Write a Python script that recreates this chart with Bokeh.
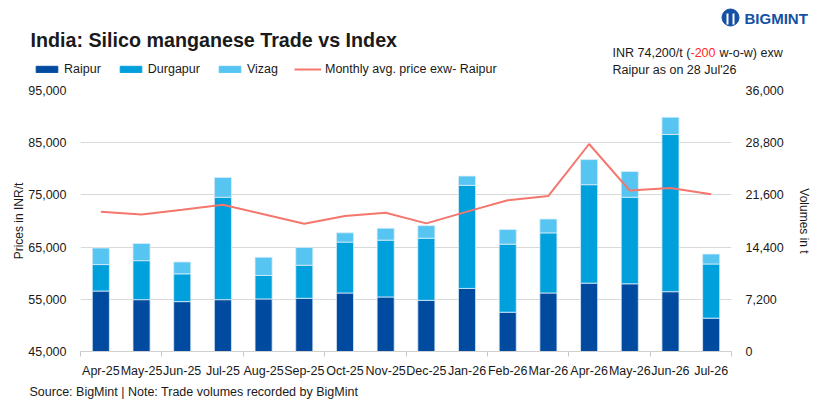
from bokeh.embed import file_html
from bokeh.resources import INLINE
from bokeh.core.properties import value
from bokeh.layouts import column
from bokeh.models import (ColumnDataSource, Range1d, LinearAxis, FixedTicker,
                          NumeralTickFormatter, Legend, LegendItem)
from bokeh.plotting import figure

months = ["Apr-25", "May-25", "Jun-25", "Jul-25", "Aug-25", "Sep-25", "Oct-25", "Nov-25",
          "Dec-25", "Jan-26", "Feb-26", "Mar-26", "Apr-26", "May-26", "Jun-26", "Jul-26"]
raipur = [8340, 7150, 6880, 7150, 7250, 7340, 8070, 7520,
          7060, 8700, 5420, 8070, 9430, 9340, 8250, 4600]
durgapur = [3650, 5380, 3830, 14130, 3240, 4560, 7020, 7840,
            8570, 14220, 9390, 8290, 13580, 11940, 21690, 7470]
vizag = [2280, 2370, 1640, 2730, 2510, 2460, 1280, 1640,
         1730, 1280, 2010, 1910, 3460, 3550, 2370, 1370]
price = [71770, 71260, 72150, 73100, 71300, 69490, 70940, 71580,
         69550, 71800, 73980, 74800, 84750, 75820, 76330, 75120]
price_ticks = [45000, 55000, 65000, 75000, 85000, 95000]
volume_ticks = [0, 7200, 14400, 21600, 28800, 36000]

FONT = "Liberation Sans"
TXT = "#1a1a1a"
colors = ["#004a9f", "#00a0dd", "#56c5f2"]
line_color = "#f4766c"
W = 813
NAN = float("nan")


def blank(height):
    # a figure whose frame is the whole canvas, y counted from the top in px
    f = figure(width=W, height=height, output_backend="svg", toolbar_location=None,
               x_range=Range1d(0, W), y_range=Range1d(height, 0), min_border=0,
               frame_align=False)
    f.axis.visible = False
    f.grid.visible = False
    f.outline_line_color = None
    return f


def add_text(f, x, y, text, size="12.5px", color=TXT, style="normal"):
    f.text(x=[x], y=[y], text=[text], text_font=value(FONT), text_font_size=size,
           text_color=color, text_font_style=style, text_baseline="middle",
           text_align="left")


# ---- header: title, legend, note, logo
head = blank(82)
add_text(head, 30, 39.5, "India: Silico manganese Trade vs Index", size="19.7px", style="bold")
add_text(head, 612, 52, "INR 74,200/t (")
add_text(head, 690, 52, "-200", color="#ff2a2a")
add_text(head, 719, 52, "w-o-w) exw")
add_text(head, 612, 69, "Raipur as on 28 Jul'26")
head.scatter(x=[730], y=[17], size=17, marker="circle", color="#1450a3")
head.segment(x0=[727, 733], y0=[13, 13], x1=[727, 733], y1=[24, 24],
             line_color="white", line_width=2)
add_text(head, 744, 18, "BIGMINT", size="15px", color="#1450a3", style="bold")

# legend swatches come from renderers that have no drawable point
dummy = []
for c in colors:
    dummy.append(head.vbar(x=[NAN], top=[NAN], width=1, color=c))
dummy.append(head.line(x=[NAN], y=[NAN], line_color=line_color, line_width=2))
legend = Legend(items=[LegendItem(label="Raipur", renderers=[dummy[0]]),
                       LegendItem(label="Durgapur", renderers=[dummy[1]]),
                       LegendItem(label="Vizag", renderers=[dummy[2]]),
                       LegendItem(label="Monthly avg. price exw- Raipur", renderers=[dummy[3]])],
                orientation="horizontal", location=(33, 6),
                glyph_width=27, glyph_height=8, label_height=14, label_standoff=4,
                spacing=16, padding=0, margin=0, border_line_color=None,
                background_fill_alpha=0, label_text_font=FONT,
                label_text_font_size="12.5px", label_text_color=TXT)
head.add_layout(legend, "center")

# ---- main chart
xs = [i + 0.5 for i in range(len(months))]
source = ColumnDataSource(data=dict(x=xs, Raipur=raipur, Durgapur=durgapur,
                                    Vizag=vizag, price=price))

p = figure(width=W, height=298, output_backend="svg", toolbar_location=None,
           x_range=Range1d(0, len(months)), y_range=Range1d(45000, 95000),
           min_border_left=80, min_border_right=73, min_border_top=8,
           min_border_bottom=27, frame_align=False)
p.extra_y_ranges = {"vol": Range1d(0, 36000)}
p.outline_line_color = None
p.xgrid.visible = False
p.ygrid.ticker = FixedTicker(ticks=price_ticks)
p.ygrid.grid_line_color = "#d9d9d9"

p.vbar_stack(["Raipur", "Durgapur", "Vizag"], x="x", width=0.42, color=colors,
             line_color="#dcecf8", line_width=0.8, source=source, y_range_name="vol")
p.line(x="x", y="price", source=source, line_color=line_color, line_width=2)

yl = p.yaxis[0]
yl.ticker = FixedTicker(ticks=price_ticks)
yl.formatter = NumeralTickFormatter(format="0,0")
yl.axis_label = "Prices in INR/t"
yr = LinearAxis(y_range_name="vol", ticker=FixedTicker(ticks=volume_ticks),
                formatter=NumeralTickFormatter(format="0,0"), axis_label="Volumes in t")
p.add_layout(yr, "right")
for ax in (yl, yr):
    ax.axis_line_color = None
    ax.major_tick_line_color = None
    ax.minor_tick_line_color = None
    ax.major_label_standoff = 8
    ax.major_label_text_font = FONT
    ax.major_label_text_font_size = "12.5px"
    ax.major_label_text_color = TXT
    ax.axis_label_text_font = FONT
    ax.axis_label_text_font_size = "12px"
    ax.axis_label_text_font_style = "normal"
    ax.axis_label_text_color = TXT
yl.axis_label_standoff = -1
yr.axis_label_standoff = 10

xa = p.xaxis[0]
xa.ticker = FixedTicker(ticks=xs, minor_ticks=list(range(0, len(months) + 1, 2)))
xa.major_label_overrides = {x: m for x, m in zip(xs, months)}
xa.axis_line_color = "#d0d0d0"
xa.major_tick_line_color = None
xa.minor_tick_line_color = "#c8c8c8"
xa.minor_tick_out = 5
xa.minor_tick_in = 0
xa.major_label_standoff = 6
xa.major_label_text_font = FONT
xa.major_label_text_font_size = "12.5px"
xa.major_label_text_color = TXT

# ---- footer
foot = blank(19)
add_text(foot, 29, 11, "Source: BigMint | Note: Trade volumes recorded by BigMint")

layout = column(head, p, foot)
open("out.html", "w").write(file_html(layout, INLINE))
